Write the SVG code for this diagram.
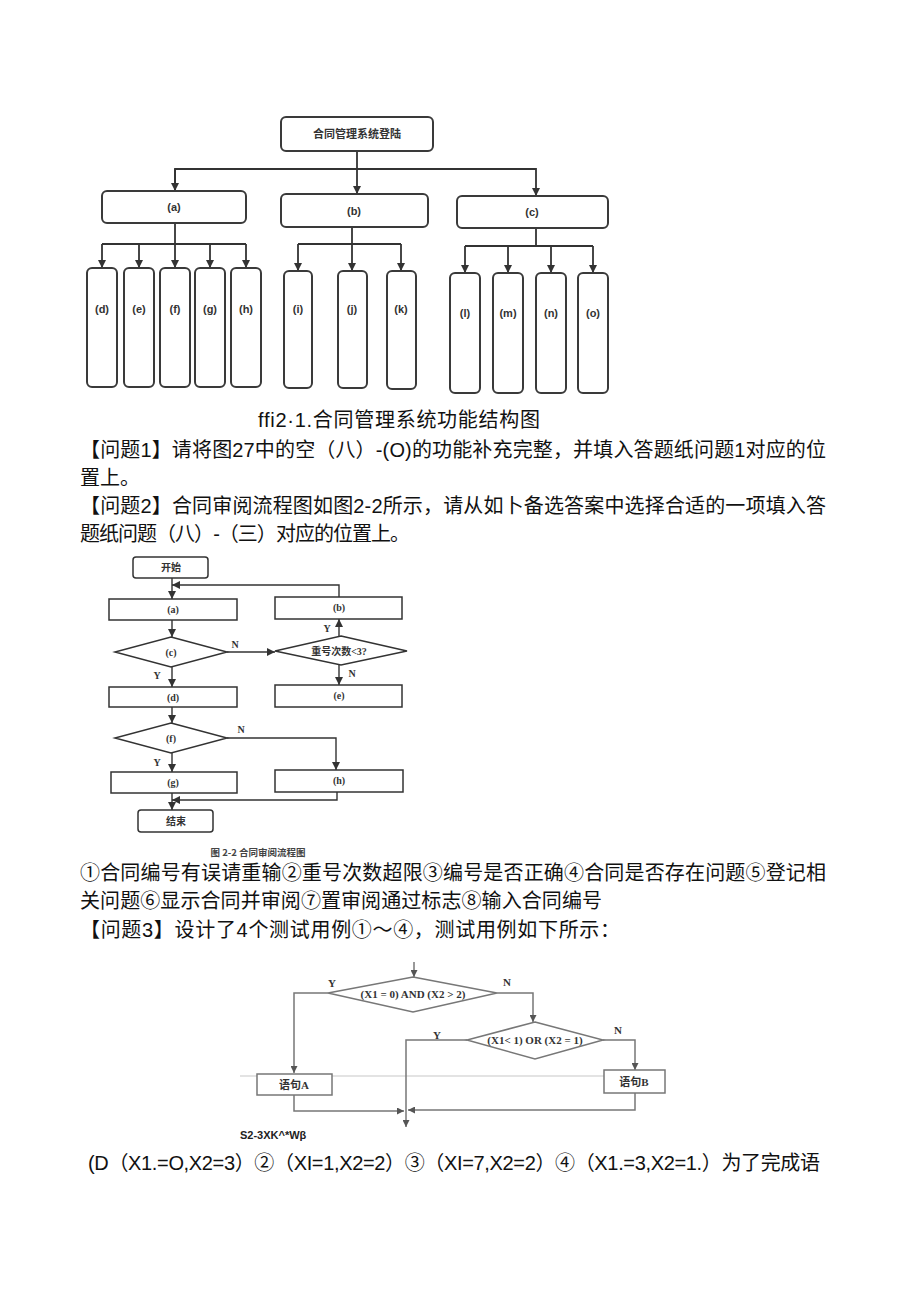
<svg xmlns="http://www.w3.org/2000/svg" width="920" height="1301" viewBox="0 0 920 1301">
<defs>
<style>
.bx{fill:#fff;stroke:#3a3a3a;stroke-width:2}
.ln{fill:none;stroke:#333;stroke-width:1.8}
.lb{font-family:"Liberation Sans","Noto Sans CJK SC",sans-serif;font-weight:bold;font-size:11px;fill:#333;text-anchor:middle}
.fb{fill:#fff;stroke:#333;stroke-width:1.5}
.fl{fill:none;stroke:#333;stroke-width:1.4}
.ft{font-family:"Liberation Serif","Noto Sans CJK SC",serif;font-weight:bold;font-size:10px;fill:#333;text-anchor:middle}
.fyn{font-family:"Liberation Serif",serif;font-weight:bold;font-size:10px;fill:#333;text-anchor:middle}
.gb{fill:#fff;stroke:#777;stroke-width:1.5}
.gl{fill:none;stroke:#777;stroke-width:1.5}
.gt{font-family:"Liberation Serif","Noto Sans CJK SC",serif;font-weight:bold;font-size:11px;fill:#333;text-anchor:middle}
.body{font-family:"Liberation Sans","Noto Sans CJK SC",sans-serif;font-size:20px;fill:#111}
</style>
<marker id="ar" markerUnits="userSpaceOnUse" markerWidth="8" markerHeight="8" refX="8" refY="4" orient="auto"><path d="M0,0 L8,4 L0,8 z" fill="#333"/></marker>
<marker id="ag" markerUnits="userSpaceOnUse" markerWidth="7" markerHeight="7" refX="7" refY="3.5" orient="auto"><path d="M0,0 L7,3.5 L0,7 z" fill="#555"/></marker>
</defs>

<!-- Figure 2-1 -->
<g id="connectors-fig1">
<path class="ln" d="M357,151 V194" marker-end="url(#ar)"/>
<path class="ln" d="M175,191 V169 H536 V196" marker-end="url(#ar)"/>
<path class="ln" d="M175,169 V191" marker-end="url(#ar)"/>
<path class="ln" d="M175,223 V268" marker-end="url(#ar)"/>
<path class="ln" d="M102,244 H246"/>
<path class="ln" d="M102,244 V268" marker-end="url(#ar)"/>
<path class="ln" d="M139,244 V268" marker-end="url(#ar)"/>
<path class="ln" d="M210,244 V268" marker-end="url(#ar)"/>
<path class="ln" d="M246,244 V268" marker-end="url(#ar)"/>
<path class="ln" d="M352,227 V271" marker-end="url(#ar)"/>
<path class="ln" d="M298,244 H401"/>
<path class="ln" d="M298,244 V271" marker-end="url(#ar)"/>
<path class="ln" d="M401,244 V271" marker-end="url(#ar)"/>
<path class="ln" d="M536,228 V246"/>
<path class="ln" d="M465,246 H593"/>
<path class="ln" d="M465,246 V273" marker-end="url(#ar)"/>
<path class="ln" d="M508,246 V273" marker-end="url(#ar)"/>
<path class="ln" d="M551,246 V273" marker-end="url(#ar)"/>
<path class="ln" d="M593,246 V273" marker-end="url(#ar)"/>
</g>
<g id="root"><rect class="bx" x="281" y="117" width="152" height="34" rx="5"/><text class="lb" x="357" y="138" font-size="12">合同管理系统登陆</text></g>
<g id="na"><rect class="bx" x="102" y="191" width="144" height="32" rx="5"/><text class="lb" x="174" y="211">(a)</text></g>
<g id="nb"><rect class="bx" x="281" y="194" width="147" height="33" rx="5"/><text class="lb" x="354" y="215">(b)</text></g>
<g id="nc"><rect class="bx" x="457" y="196" width="151" height="32" rx="5"/><text class="lb" x="532" y="216">(c)</text></g>
<g id="nd"><rect class="bx" x="87" y="268" width="30" height="119" rx="5"/><text class="lb" x="102" y="313">(d)</text></g>
<g id="ne"><rect class="bx" x="124" y="268" width="30" height="119" rx="5"/><text class="lb" x="139" y="313">(e)</text></g>
<g id="nf"><rect class="bx" x="160" y="268" width="30" height="119" rx="5"/><text class="lb" x="175" y="313">(f)</text></g>
<g id="ng"><rect class="bx" x="195" y="268" width="30" height="119" rx="5"/><text class="lb" x="210" y="313">(g)</text></g>
<g id="nh"><rect class="bx" x="231" y="268" width="30" height="119" rx="5"/><text class="lb" x="246" y="313">(h)</text></g>
<g id="ni"><rect class="bx" x="284" y="271" width="28" height="117" rx="5"/><text class="lb" x="298" y="313">(i)</text></g>
<g id="nj"><rect class="bx" x="338" y="271" width="29" height="117" rx="5"/><text class="lb" x="352" y="313">(j)</text></g>
<g id="nk"><rect class="bx" x="387" y="271" width="29" height="118" rx="5"/><text class="lb" x="401" y="313">(k)</text></g>
<g id="nl"><rect class="bx" x="450" y="273" width="30" height="120" rx="5"/><text class="lb" x="465" y="317">(l)</text></g>
<g id="nm"><rect class="bx" x="493" y="273" width="30" height="120" rx="5"/><text class="lb" x="508" y="317">(m)</text></g>
<g id="nn"><rect class="bx" x="536" y="273" width="30" height="120" rx="5"/><text class="lb" x="551" y="317">(n)</text></g>
<g id="no"><rect class="bx" x="578" y="273" width="30" height="120" rx="5"/><text class="lb" x="593" y="317">(o)</text></g>

<!-- body text -->
<text class="body" x="258" y="427" font-size="19" textLength="282" lengthAdjust="spacing">ffi2·1.合同管理系统功能结构图</text>
<text class="body" x="80" y="457" textLength="746" lengthAdjust="spacing">【问题1】请将图27中的空（八）-(O)的功能补充完整，并填入答题纸问题1对应的位</text>
<text class="body" x="80" y="485">置上。</text>
<text class="body" x="80" y="513" textLength="746" lengthAdjust="spacing">【问题2】合同审阅流程图如图2-2所示，请从如卜备选答案中选择合适的一项填入答</text>
<text class="body" x="80" y="541" textLength="330" lengthAdjust="spacing">题纸问题（八）-（三）对应的位置上。</text>

<!-- Figure 2-2 -->
<g id="connectors-fig2">
<path class="fl" d="M172,578 V599" marker-end="url(#ar)"/>
<path class="fl" d="M339,597 V585 H172" marker-end="url(#ar)"/>
<path class="fl" d="M172,620 V637" marker-end="url(#ar)"/>
<path class="fl" d="M227,652 H275" marker-end="url(#ar)"/>
<path class="fl" d="M339,636 V619" marker-end="url(#ar)"/>
<path class="fl" d="M339,665 V685" marker-end="url(#ar)"/>
<path class="fl" d="M172,667 V687" marker-end="url(#ar)"/>
<path class="fl" d="M172,707 V723" marker-end="url(#ar)"/>
<path class="fl" d="M227,738 H336 V770" marker-end="url(#ar)"/>
<path class="fl" d="M172,753 V772" marker-end="url(#ar)"/>
<path class="fl" d="M337,792 V800 H172" marker-end="url(#ar)"/>
<path class="fl" d="M172,793 V810" marker-end="url(#ar)"/>
<text class="fyn" x="235" y="648">N</text>
<text class="fyn" x="327" y="632">Y</text>
<text class="fyn" x="352" y="677">N</text>
<text class="fyn" x="157" y="679">Y</text>
<text class="fyn" x="241" y="733">N</text>
<text class="fyn" x="157" y="766">Y</text>
</g>
<g id="f-start"><rect class="fb" x="133" y="557" width="75" height="21" rx="3"/><text class="ft" x="171" y="571">开始</text></g>
<g id="f-a"><rect class="fb" x="109" y="599" width="128" height="21"/><text class="ft" x="173" y="613">(a)</text></g>
<g id="f-b"><rect class="fb" x="275" y="597" width="127" height="22"/><text class="ft" x="339" y="611">(b)</text></g>
<g id="f-c"><path class="fb" d="M171,637 L227,652 L171,667 L115,652 Z"/><text class="ft" x="171" y="656">(c)</text></g>
<g id="f-q"><path class="fb" d="M341,636 L407,651 L341,665 L275,651 Z"/><text class="ft" x="339" y="655" font-size="9" font-family="Noto Sans CJK SC,sans-serif">重号次数&lt;3?</text></g>
<g id="f-d"><rect class="fb" x="109" y="687" width="128" height="20"/><text class="ft" x="173" y="701">(d)</text></g>
<g id="f-e"><rect class="fb" x="275" y="685" width="127" height="22"/><text class="ft" x="339" y="699">(e)</text></g>
<g id="f-f"><path class="fb" d="M171,723 L227,738 L171,753 L115,738 Z"/><text class="ft" x="171" y="742">(f)</text></g>
<g id="f-g"><rect class="fb" x="111" y="772" width="126" height="21"/><text class="ft" x="173" y="786">(g)</text></g>
<g id="f-h"><rect class="fb" x="275" y="770" width="128" height="22"/><text class="ft" x="339" y="784">(h)</text></g>
<g id="f-end"><rect class="fb" x="138" y="810" width="75" height="22" rx="3"/><text class="ft" x="176" y="825">结束</text></g>
<text x="258" y="856" font-family="Noto Sans CJK SC,sans-serif" font-weight="bold" font-size="9.5" fill="#444" text-anchor="middle">图 2-2  合同审阅流程图</text>

<text class="body" x="80" y="880" textLength="746" lengthAdjust="spacing">①合同编号有误请重输②重号次数超限③编号是否正确④合同是否存在问题⑤登记相</text>
<text class="body" x="80" y="908" textLength="522" lengthAdjust="spacing">关问题⑥显示合同并审阅⑦置审阅通过标志⑧输入合同编号</text>
<text class="body" x="80" y="937" textLength="540" lengthAdjust="spacing">【问题3】设计了4个测试用例①～④，测试用例如下所示：</text>

<!-- Figure 2-3 -->
<line x1="240" y1="1076" x2="660" y2="1076" stroke="#c8c8c8" stroke-width="1.2"/>
<g id="connectors-fig3">
<path class="gl" d="M414,962 V977" marker-end="url(#ag)"/>
<path class="gl" d="M328,993 H294 V1073" marker-end="url(#ag)"/>
<path class="gl" d="M497,993 H533 V1022" marker-end="url(#ag)"/>
<path class="gl" d="M467,1040 H406 V1111"/>
<path class="gl" d="M603,1040 H635 V1070" marker-end="url(#ag)"/>
<path class="gl" d="M294,1095 V1111 H404" marker-end="url(#ag)"/>
<path class="gl" d="M635,1093 V1110 H408" marker-end="url(#ag)"/>
<path class="gl" d="M406,1111 V1127" marker-end="url(#ag)"/>
<text class="gt" x="332" y="987">Y</text>
<text class="gt" x="507" y="986">N</text>
<text class="gt" x="437" y="1039">Y</text>
<text class="gt" x="618" y="1034">N</text>
</g>
<g id="g-d1"><path class="gb" d="M413,977 L497,993 L413,1012 L328,993 Z"/><text class="gt" x="413" y="998">(X1 = 0) AND (X2 &gt; 2)</text></g>
<g id="g-d2"><path class="gb" d="M535,1022 L603,1040 L535,1059 L467,1040 Z"/><text class="gt" x="535" y="1044">(X1&lt; 1) OR (X2 = 1)</text></g>
<g id="g-a"><rect class="gb" x="257" y="1074" width="75" height="21"/><text class="gt" x="294" y="1089">语句A</text></g>
<g id="g-b"><rect class="gb" x="604" y="1070" width="61" height="23"/><text class="gt" x="634" y="1086">语句B</text></g>

<text x="240" y="1139" font-family="Liberation Sans,sans-serif" font-weight="bold" font-size="11" fill="#222">S2-3XK^*Wβ</text>
<text class="body" x="88" y="1170" textLength="732" lengthAdjust="spacing">(D（X1.=O,X2=3）②（XI=1,X2=2）③（XI=7,X2=2）④（X1.=3,X2=1.）为了完成语</text>
</svg>
